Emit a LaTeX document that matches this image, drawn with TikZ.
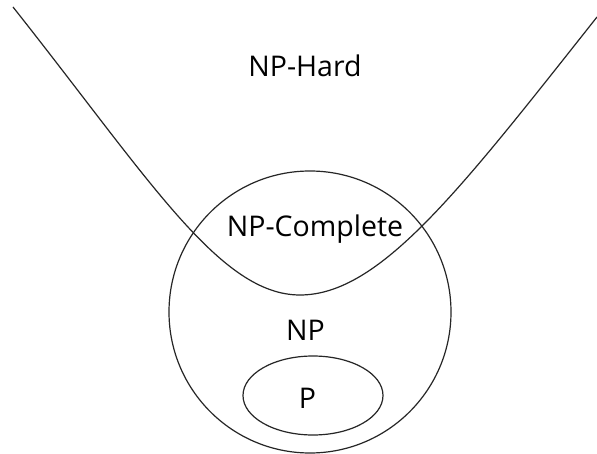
\documentclass[tikz,border=0pt]{standalone}
\usepackage{fontspec}
\setmainfont{Open Sans}
\begin{document}
\begin{tikzpicture}[x=1pt,y=-1pt,
  outline/.style={draw=black!85,line width=1.2pt},
  lbl/.style={anchor=base,inner sep=0pt,font=\fontsize{28.5}{31}\selectfont}]
\useasboundingbox[fill=white] (0,0) rectangle (597,454);
% NP-Hard boundary
\draw[outline] (13,7) .. controls (150,180) and (220,295) .. (300,295)
  .. controls (380,295) and (460,190) .. (597,17);
% NP circle
\draw[outline] (310,312) circle[radius=141];
% P ellipse
\draw[outline] (313,395.5) ellipse[x radius=70,y radius=39.5];
\node[lbl] (hard) at (305,77) {NP-Hard};
\node[lbl] (complete) at (315,237) {NP-Complete};
\node[lbl] (np) at (305.5,341) {NP};
\node[lbl] (p) at (307.5,408) {P};
\end{tikzpicture}
\end{document}
